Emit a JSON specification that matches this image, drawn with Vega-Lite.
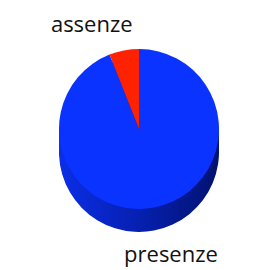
{
  "$schema": "https://vega.github.io/schema/vega-lite/v6.json",
  "width": 266,
  "height": 270,
  "autosize": {"type": "fit", "contains": "padding"},
  "padding": {"left": 12, "right": 0, "top": 0, "bottom": 12},
  "background": "white",
  "view": {"stroke": null},
  "data": {"values": [
    {"label": "presenze", "value": 94},
    {"label": "assenze", "value": 6}
  ]},
  "encoding": {
    "theta": {"field": "value", "type": "quantitative", "stack": true},
    "order": {"field": "label", "sort": "descending"}
  },
  "layer": [
    {
      "mark": {"type": "arc", "outerRadius": 80, "yOffset": 8,
        "fill": {"gradient": "linear", "x1": 0, "y1": 0, "x2": 1, "y2": 0,
          "stops": [{"offset": 0, "color": "#0B2EE6"}, {"offset": 0.5, "color": "#0620B0"}, {"offset": 1, "color": "#021270"}]}},
      "encoding": {}
    },
    {
      "mark": {"type": "arc", "outerRadius": 80, "yOffset": 16,
        "fill": {"gradient": "linear", "x1": 0, "y1": 0, "x2": 1, "y2": 0,
          "stops": [{"offset": 0, "color": "#0B2EE6"}, {"offset": 0.5, "color": "#0620B0"}, {"offset": 1, "color": "#021270"}]}},
      "encoding": {}
    },
    {
      "mark": {"type": "arc", "outerRadius": 80, "yOffset": 23,
        "fill": {"gradient": "linear", "x1": 0, "y1": 0, "x2": 1, "y2": 0,
          "stops": [{"offset": 0, "color": "#0B2EE6"}, {"offset": 0.5, "color": "#0620B0"}, {"offset": 1, "color": "#021270"}]}},
      "encoding": {}
    },
    {
      "mark": {"type": "arc", "outerRadius": 80},
      "encoding": {
        "color": {"field": "label", "type": "nominal",
          "scale": {"domain": ["presenze", "assenze"], "range": ["#0A33FF", "#FF2200"]},
          "legend": null}
      }
    },
    {
      "mark": {"type": "text", "radius": 108, "dx": -27, "dy": 2, "font": "Open Sans", "fontSize": 22, "color": "#111111"},
      "encoding": {
        "text": {"field": "label"},
        "opacity": {"condition": {"test": "datum.label === 'assenze'", "value": 1}, "value": 0}
      }
    },
    {
      "mark": {"type": "text", "radius": 128, "dx": 8, "font": "Open Sans", "fontSize": 22, "color": "#111111"},
      "encoding": {
        "text": {"field": "label"},
        "opacity": {"condition": {"test": "datum.label === 'presenze'", "value": 1}, "value": 0}
      }
    }
  ]
}
